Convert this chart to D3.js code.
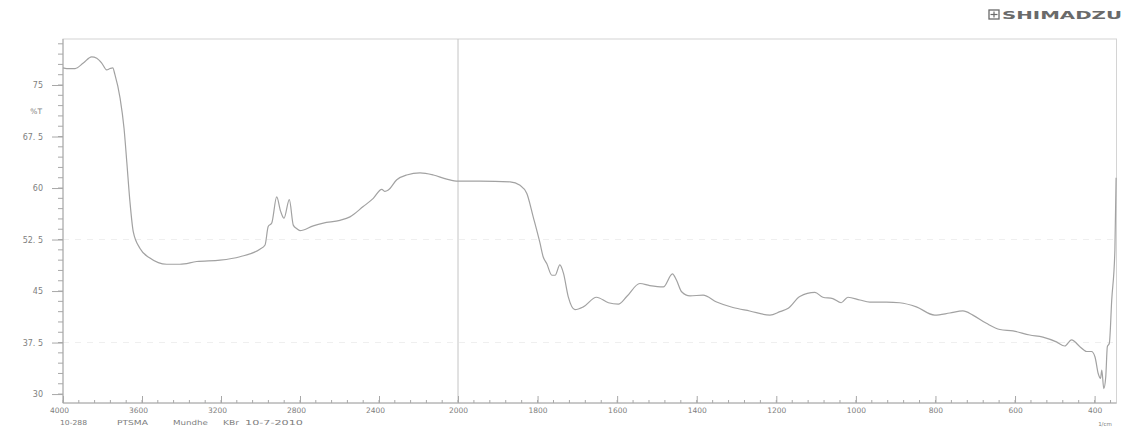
<!DOCTYPE html>
<html>
<head>
<meta charset="utf-8">
<script src="https://cdn.jsdelivr.net/npm/d3@7"></script>
<style>
  html, body { margin: 0; padding: 0; background: #fff; }
  svg { display: block; }
  text { font-family: "DejaVu Sans", "Liberation Sans", Arial, sans-serif; fill: #808080; }
</style>
</head>
<body>
<svg id="chart" width="1144" height="428"></svg>
<script>
// Wavenumbers (1/cm) and %T
const wavenumber = [4000,3981,3939,3897,3855,3829,3804,3779,3762,3748,3737,3711,3691,3677,3661,3644,3610,3560,3475,3408,3323,3205,3104,3003,2977,2961,2943,2918,2898,2881,2854,2834,2817,2800,2733,2682,2598,2547,2480,2429,2386,2370,2353,2310,2260,2192,2125,2057,2000,1945,1869,1844,1827,1811,1794,1786,1777,1764,1756,1744,1735,1723,1706,1685,1652,1622,1597,1576,1543,1518,1484,1461,1451,1438,1417,1384,1350,1309,1267,1216,1191,1170,1141,1103,1083,1058,1037,1020,990,965,923,890,848,802,764,731,706,672,638,605,563,530,496,475,458,437,420,408,399,391,385,382,377,372,368,363,357,349,346];
const transmittance = [77.5,77.4,77.4,78.2,79.1,78.9,78.2,77.2,77.4,77.5,76.5,73.1,68.7,63.8,58.0,53.6,51.2,49.8,48.9,48.9,49.3,49.5,50.0,51.1,51.7,54.4,54.9,58.7,56.6,55.6,58.3,54.6,54.1,53.8,54.5,54.9,55.3,55.8,57.3,58.5,59.8,59.5,59.7,61.2,61.9,62.2,61.9,61.3,61.0,61.0,60.9,60.4,59.2,55.8,52.0,50.0,49.0,47.3,47.3,48.8,47.6,44.2,42.3,42.7,44.1,43.3,43.1,44.2,46.1,45.8,45.6,47.5,46.6,44.9,44.3,44.4,43.4,42.6,42.1,41.5,42.0,42.5,44.2,44.8,44.1,43.9,43.3,44.1,43.7,43.4,43.4,43.3,42.7,41.5,41.8,42.1,41.5,40.3,39.4,39.2,38.6,38.3,37.6,37.0,37.9,36.9,36.2,36.2,35.4,33.0,32.3,33.5,30.8,32.5,36.9,37.4,43.7,51.0,61.5];

const xTickLabels = [4000,3600,3200,2800,2400,2000,1800,1600,1400,1200,1000,800,600,400];
const yTickLabels = [30,37.5,45,52.5,60,67.5,75];
const footerTexts = ["10-288","PTSMA","Mundhe","KBr","10-7-2010"];
const footerX = [60,117,173,223,245];
const footerLen = [27,31,35,16,58];

(function () {
const svg = d3.select("#chart");
const pLeft = 63, pTop = 39, pRight = 1116.5, pBottom = 403;

// Shimadzu scale: half expansion above 2000 1/cm
const x = d3.scaleLinear().domain([4000, 2000, 345]).range([pLeft, 458, pRight]);
const y = d3.scaleLinear().domain([28.7, 81.7]).range([pBottom, pTop]);

const axisColor = "#a8a8a8";
const labelFont = "'DejaVu Sans', 'Liberation Sans', Arial, sans-serif";

// faint paper grid artifacts
[37.5, 52.5].forEach(v => {
  svg.append("line")
    .attr("x1", pLeft).attr("x2", pRight)
    .attr("y1", y(v)).attr("y2", y(v))
    .attr("stroke", "#efefef").attr("stroke-width", 1)
    .attr("stroke-dasharray", "6,6");
});

// frame
svg.append("rect")
  .attr("x", pLeft).attr("y", pTop)
  .attr("width", pRight - pLeft).attr("height", pBottom - pTop)
  .attr("fill", "none").attr("stroke", "#d4d4d4").attr("stroke-width", 1);
svg.append("line").attr("x1", pLeft).attr("x2", pLeft).attr("y1", pTop).attr("y2", pBottom)
  .attr("stroke", axisColor);
svg.append("line").attr("x1", pLeft).attr("x2", pRight).attr("y1", pBottom).attr("y2", pBottom)
  .attr("stroke", axisColor);

// vertical scale change line at 2000
svg.append("line")
  .attr("x1", x(2000)).attr("x2", x(2000))
  .attr("y1", pTop).attr("y2", pBottom)
  .attr("stroke", "#c4c4c4").attr("stroke-width", 1);

// Y axis: major ticks with labels, minor ticks every 1.5
const yMinor = d3.range(30, 81.7, 1.5);
svg.append("g").selectAll("line").data(yMinor).join("line")
  .attr("x1", pLeft - 5).attr("x2", pLeft)
  .attr("y1", d => y(d)).attr("y2", d => y(d))
  .attr("stroke", axisColor);
const yAxis = d3.axisLeft(y).tickValues(yTickLabels).tickSize(11).tickPadding(9)
  .tickFormat(d => d3.format("~g")(d).replace(".", ". "));
const gy = svg.append("g").attr("transform", `translate(${pLeft},0)`).call(yAxis);
gy.select(".domain").remove();
gy.selectAll(".tick line").attr("stroke", axisColor);
gy.selectAll(".tick text").attr("font-size", 8).attr("fill", "#808080")
  .style("font-family", labelFont);
svg.append("text").attr("x", 42).attr("y", y(71.2)).attr("text-anchor", "end")
  .attr("font-size", 7.5).attr("dy", "0.35em").text("%T");

// X axis: minor ticks (80 above 2000, 40 below)
const xMinor = d3.range(4000, 2000, -80).concat(d3.range(2000, 345, -40));
svg.append("g").selectAll("line").data(xMinor).join("line")
  .attr("x1", d => x(d)).attr("x2", d => x(d))
  .attr("y1", pBottom - 3).attr("y2", pBottom)
  .attr("stroke", axisColor);
const xAxis = d3.axisBottom(x).tickValues(xTickLabels).tickSize(-7).tickPadding(5)
  .tickFormat(d3.format("d"));
const gx = svg.append("g").attr("transform", `translate(0,${pBottom})`).call(xAxis);
gx.select(".domain").remove();
gx.selectAll(".tick line").attr("stroke", axisColor);
gx.selectAll(".tick text").attr("font-size", 7.5).attr("fill", "#808080")
  .attr("dx", d => d > 2000 ? -4 : 0)
  .style("font-family", labelFont);

// footer info line
svg.append("g").selectAll("text").data(footerTexts).join("text")
  .attr("x", (d, i) => footerX[i]).attr("y", 424.5)
  .attr("text-anchor", "start").attr("font-size", 6.8)
  .attr("textLength", (d, i) => footerLen[i]).attr("lengthAdjust", "spacingAndGlyphs")
  .text(d => d);
svg.append("text").attr("x", 1105).attr("y", 425.5).attr("text-anchor", "middle")
  .attr("font-size", 5.5).text("1/cm");

// SHIMADZU logo
const logo = svg.append("g");
logo.append("rect").attr("x", 989).attr("y", 10).attr("width", 10).attr("height", 9)
  .attr("fill", "none").attr("stroke", "#6a6a6a").attr("stroke-width", 1.3);
logo.append("line").attr("x1", 994).attr("x2", 994).attr("y1", 11.5).attr("y2", 17.5)
  .attr("stroke", "#6a6a6a").attr("stroke-width", 1.2);
logo.append("line").attr("x1", 990.5).attr("x2", 997.5).attr("y1", 14.5).attr("y2", 14.5)
  .attr("stroke", "#6a6a6a").attr("stroke-width", 1.2);
logo.append("text").attr("x", 1002).attr("y", 18.5)
  .attr("font-size", 10).attr("font-weight", "bold")
  .attr("textLength", 120).attr("lengthAdjust", "spacingAndGlyphs")
  .style("fill", "#6a6a6a").text("SHIMADZU");

// spectrum
const pts = wavenumber.map((w, i) => [w, transmittance[i]]);
const line = d3.line().x(d => x(d[0])).y(d => y(d[1])).curve(d3.curveMonotoneX);
svg.append("path").datum(pts)
  .attr("d", line)
  .attr("fill", "none")
  .attr("stroke", "#a2a2a2")
  .attr("stroke-width", 1.2)
  .attr("stroke-linejoin", "round");
})();
</script>
</body>
</html>
